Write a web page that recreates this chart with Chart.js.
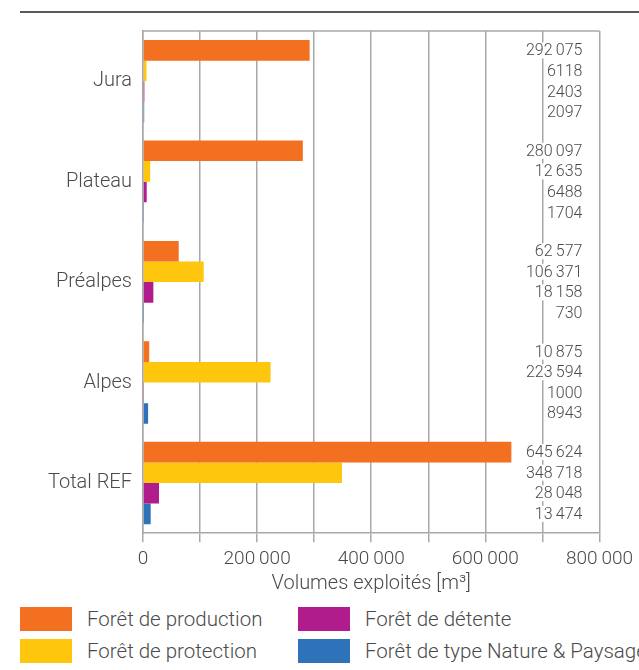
<!DOCTYPE html>
<html>
<head>
<meta charset="utf-8">
<script src="https://cdn.jsdelivr.net/npm/chart.js@4"></script>
<style>
  body { margin: 0; background: #fff; font-family: Roboto, sans-serif; }
  #wrap { position: relative; width: 639px; height: 670px; overflow: hidden; }
  #rule { position: absolute; left: 20px; right: 0; top: 11px; height: 2px; background: #5a5a5a; }
  #box { position: absolute; left: 0; top: 0; width: 639px; height: 596px; }
  #legend { position: absolute; left: 20px; top: 607px; width: 620px; }
  .item { position: absolute; display: flex; align-items: center; font-weight: 300; font-size: 20.5px; color: #4a4a4a; white-space: nowrap; }
  .item span { display: inline-block; width: 52px; height: 24px; margin-right: 15px; }
</style>
</head>
<body>
<div id="wrap">
  <div id="rule"></div>
  <div id="box"><canvas id="forestChart"></canvas></div>
  <div id="legend"></div>
</div>
<script>
const regions = ["Jura", "Plateau", "Préalpes", "Alpes", "Total REF"];
const seriesNames = [
  "Forêt de production",
  "Forêt de protection",
  "Forêt de détente",
  "Forêt de type Nature & Paysage",
];
const production = [292075, 280097, 62577, 10875, 645624];
const protection = [6118, 12635, 106371, 223594, 348718];
const detente = [2403, 6488, 18158, 1000, 28048];
const nature = [2097, 1704, 730, 8943, 13474];
const colors = ["#f37021", "#fec70d", "#b01c8b", "#2e73ba"];
const xMax = 800000;
const xStep = 100000;

// thin space as thousands separator, only from 5 digits on
const fmt = (v) => (v >= 10000 ? String(v).replace(/\B(?=(\d{3})+(?!\d))/g, "\u2009") : String(v));
const textColor = "#4a4a4a";
const gridColor = "#a8a8a8";

// small plugin: top frame line + value labels at the right
const extras = {
  id: "extras",
  beforeDatasetsDraw(chart) {
    const { ctx, chartArea } = chart;
    ctx.save();
    ctx.strokeStyle = gridColor;
    ctx.lineWidth = 1.5;
    ctx.beginPath();
    ctx.moveTo(chartArea.left, chartArea.top);
    ctx.lineTo(chartArea.right, chartArea.top);
    ctx.stroke();
    ctx.restore();
  },
  afterDatasetsDraw(chart) {
    const { ctx } = chart;
    const right = chart.scales.x.getPixelForValue(xMax) - 17;
    ctx.save();
    ctx.font = "300 16px Roboto";
    ctx.textAlign = "right";
    ctx.textBaseline = "middle";
    chart.data.datasets.forEach((ds, di) => {
      chart.getDatasetMeta(di).data.forEach((bar, i) => {
        const txt = fmt(ds.data[i]);
        const w = ctx.measureText(txt).width;
        ctx.fillStyle = "#fff";
        ctx.fillRect(right - w - 1, bar.y - 8, w + 2, 16);
        ctx.fillStyle = textColor;
        ctx.fillText(txt, right, bar.y + 1);
      });
    });
    ctx.restore();
  },
};

const seriesData = [production, protection, detente, nature];

new Chart(document.getElementById("forestChart"), {
  type: "bar",
  data: {
    labels: regions,
    datasets: seriesData.map((d, i) => ({
      label: seriesNames[i],
      data: d,
      backgroundColor: colors[i],
      barPercentage: 1,
      categoryPercentage: 0.82,
    })),
  },
  options: {
    indexAxis: "y",
    responsive: true,
    maintainAspectRatio: false,
    animation: false,
    layout: { padding: { top: 31, right: 39, left: 0, bottom: 0 } },
    plugins: {
      legend: { display: false },
      tooltip: { enabled: false },
    },
    scales: {
      x: {
        min: 0,
        max: xMax,
        ticks: {
          stepSize: xStep,
          color: textColor,
          font: { family: "Roboto", size: 19, weight: 300 },
          padding: 6,
          maxRotation: 0,
          autoSkip: false,
          callback: (v) => (v % 200000 === 0 ? fmt(v) : ""),
        },
        grid: { color: gridColor, lineWidth: 1.5, tickLength: 9 },
        border: { color: gridColor, width: 1.5 },
        title: {
          display: true,
          text: "Volumes exploités [m³]",
          color: textColor,
          font: { family: "Roboto", size: 20, weight: 300 },
          padding: { top: -5, bottom: 0 },
        },
      },
      y: {
        ticks: {
          color: textColor,
          font: { family: "Roboto", size: 20, weight: 300 },
          padding: 3,
        },
        grid: { display: false },
        border: { color: gridColor, width: 1.5 },
        afterFit: (s) => { s.width = 143; },
      },
    },
  },
  plugins: [extras],
});

// legend in two columns, built from the series arrays
const legend = document.getElementById("legend");
seriesNames.forEach((name, i) => {
  const el = document.createElement("div");
  el.className = "item";
  el.style.left = (i < 2 ? 0 : 278) + "px";
  el.style.top = (i % 2) * 32 + "px";
  el.innerHTML = '<span style="background:' + colors[i] + '"></span>' + name;
  legend.appendChild(el);
});
</script>
</body>
</html>
